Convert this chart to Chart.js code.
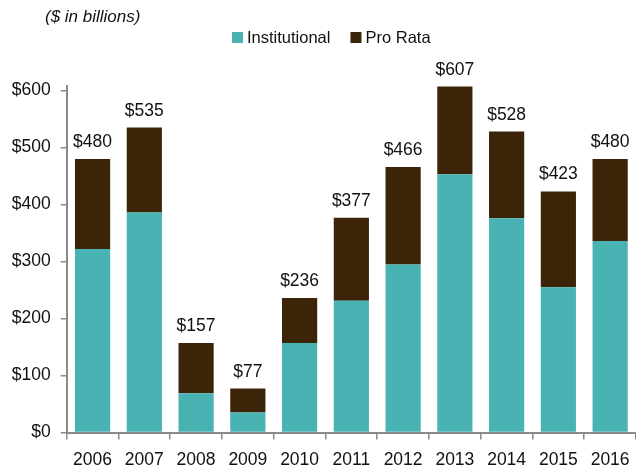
<!DOCTYPE html>
<html>
<head>
<meta charset="utf-8">
<script src="https://cdn.jsdelivr.net/npm/chart.js@4"></script>
<style>
  body { margin: 0; background: #fff; }
  #wrap { width: 636px; height: 474px; }
</style>
</head>
<body>
<div id="wrap"><canvas id="c"></canvas></div>
<script>
// years and the two loan pieces ($ billions)
const years = ["2006","2007","2008","2009","2010","2011","2012","2013","2014","2015","2016"];
const institutional = [322, 386, 69, 35, 157, 231, 295, 453, 376, 255, 336];
const proRata = [158, 149, 88, 42, 79, 146, 171, 154, 152, 168, 144];
const yTicks = [0, 100, 200, 300, 400, 500, 600];

const FONT = "'Liberation Sans', Arial, sans-serif";
const teal = "#49B3B4";
const brown = "#3C2409";
const axisGray = "#8a8a8a";

// totals above each bar, plus the title and legend at the top
const overlay = {
  id: "overlay",
  afterDatasetsDraw(chart) {
    const ctx = chart.ctx;
    const meta = chart.getDatasetMeta(1);
    ctx.save();
    ctx.fillStyle = "#111";
    ctx.font = "17.5px " + FONT;
    ctx.textAlign = "center";
    ctx.textBaseline = "alphabetic";
    meta.data.forEach((bar, i) => {
      const total = institutional[i] + proRata[i];
      ctx.fillText("$" + total, bar.x, bar.y - 12);
    });

    ctx.font = "italic 17px " + FONT;
    ctx.textAlign = "left";
    ctx.textBaseline = "middle";
    ctx.fillText("($ in billions)", 45, 17);

    ctx.font = "16.5px " + FONT;
    const items = [["Institutional", teal], ["Pro Rata", brown]];
    let x = 232;
    items.forEach(([txt, col]) => {
      ctx.fillStyle = col;
      ctx.fillRect(x, 32, 11, 11);
      ctx.fillStyle = "#111";
      ctx.fillText(txt, x + 15, 38.5);
      x += 15 + ctx.measureText(txt).width + 20;
    });
    ctx.restore();
  }
};

new Chart(document.getElementById("c"), {
  type: "bar",
  data: {
    labels: years,
    datasets: [
      { label: "Institutional", data: institutional, backgroundColor: teal },
      { label: "Pro Rata", data: proRata, backgroundColor: brown }
    ]
  },
  options: {
    responsive: true,
    maintainAspectRatio: false,
    animation: false,
    layout: { padding: { top: 86, left: 0, right: 0, bottom: 0 } },
    datasets: { bar: { barPercentage: 0.68, categoryPercentage: 1 } },
    plugins: { legend: { display: false }, tooltip: { enabled: false } },
    scales: {
      x: {
        stacked: true,
        grid: { display: true, drawOnChartArea: false, offset: true, tickLength: 7, color: axisGray, lineWidth: 1.5 },
        border: { color: axisGray, width: 2 },
        ticks: { color: "#111", font: { family: FONT, size: 17.5 }, padding: 10, maxRotation: 0 },
        afterFit(s) { s.height = 41.5; s.paddingLeft = 0; s.paddingRight = 0; }
      },
      y: {
        stacked: true,
        min: 0,
        max: 608,
        grid: { display: true, drawOnChartArea: false, tickLength: 6, color: axisGray, lineWidth: 1.5 },
        border: { color: axisGray, width: 2 },
        afterBuildTicks(s) { s.ticks = yTicks.map(v => ({ value: v })); },
        ticks: { color: "#111", font: { family: FONT, size: 17.5 }, padding: 10, callback: v => "$" + v },
        afterFit(s) { s.width = 66.7; s.paddingTop = 0; s.paddingBottom = 0; }
      }
    }
  },
  plugins: [overlay]
});
</script>
</body>
</html>
